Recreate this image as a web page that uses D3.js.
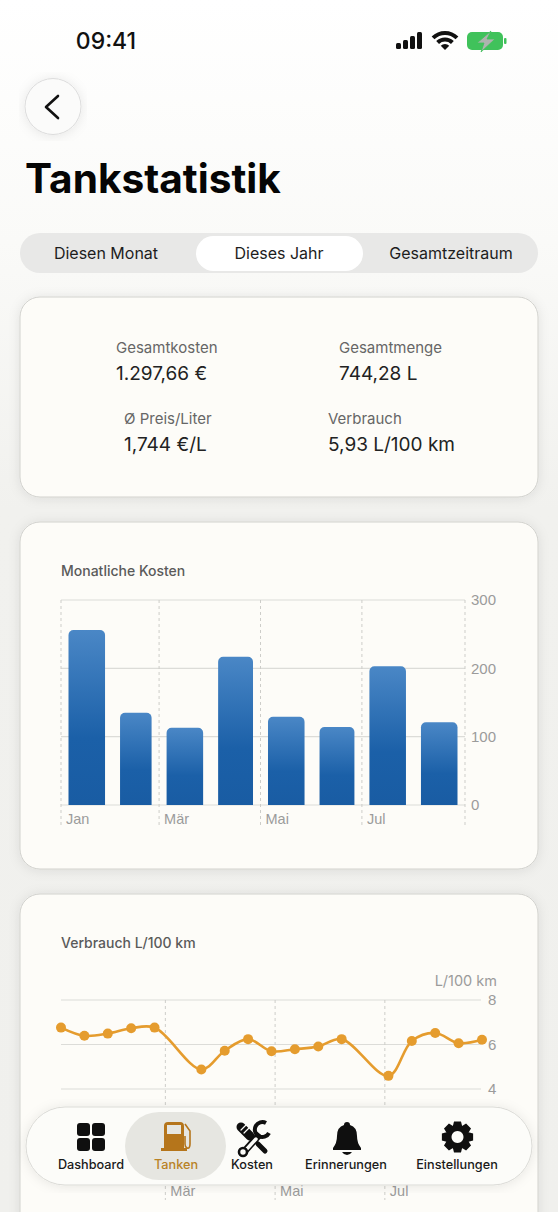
<!DOCTYPE html>
<html lang="de">
<head>
<meta charset="utf-8">
<title>Tankstatistik</title>
<script src="https://cdn.jsdelivr.net/npm/d3@7"></script>
<style>
  html, body { margin: 0; padding: 0; background: #f4f4f1; overflow: hidden; }
  svg { display: block; font-family: Inter, "Liberation Sans", sans-serif; }
</style>
</head>
<body>
<svg width="558" height="1212"></svg>
<script>
const periods = ["Diesen Monat", "Dieses Jahr", "Gesamtzeitraum"];

const statLabels = ["Gesamtkosten", "Gesamtmenge", "Ø Preis/Liter", "Verbrauch"];
const statValues = ["1.297,66 €", "744,28 L", "1,744 €/L", "5,93 L/100 km"];

const costMonths = ["2025-01-01", "2025-02-01", "2025-03-01", "2025-04-01", "2025-05-01", "2025-06-01", "2025-07-01", "2025-08-01"];
const costValues = [256, 135, 113, 217, 129, 114, 203, 121];
const costTicks = [0, 100, 200, 300];

const fuelDates = ["2025-01-02", "2025-01-15", "2025-01-28", "2025-02-10", "2025-02-23", "2025-03-21", "2025-04-03", "2025-04-16", "2025-04-29", "2025-05-12", "2025-05-25", "2025-06-07", "2025-07-03", "2025-07-16", "2025-07-29", "2025-08-11", "2025-08-24"];
const fuelValues = [6.76, 6.39, 6.49, 6.73, 6.76, 4.88, 5.72, 6.24, 5.70, 5.79, 5.91, 6.24, 4.59, 6.16, 6.52, 6.06, 6.21];
// 0 and 2 sit behind the tab bar in the reference
const fuelTicks = [4, 6, 8];

const monthTicks = ["2025-01-01", "2025-03-01", "2025-05-01", "2025-07-01", "2025-09-01"];
const monthNames = { 0: "Jan", 2: "Mär", 4: "Mai", 6: "Jul" };

const navLabels = ["Dashboard", "Tanken", "Kosten", "Erinnerungen", "Einstellungen"];

const colors = {
  ink: "#111",
  soft: "#5a5a5a",
  axis: "#9b9b9b",
  grid: "#dcdcd8",
  dash: "#cdcdc9",
  card: "#fdfcf8",
  cardLine: "#d2d2ce",
  line: "#e59c2e",
  active: "#b5751b"
};

const svg = d3.select("svg");
const defs = svg.append("defs");
const parseDay = d3.utcParse("%Y-%m-%d");

const addGradient = (id, stops) => {
  const g = defs.append("linearGradient").attr("id", id)
    .attr("x1", 0).attr("y1", 0).attr("x2", 0).attr("y2", 1);
  stops.forEach(([offset, color]) => g.append("stop").attr("offset", offset).attr("stop-color", color));
};
addGradient("page", [[0, "#ffffff"], [0.2, "#fafaf8"], [0.42, "#f1f1ee"], [1, "#f0f0ed"]]);
addGradient("bar", [[0, "#4a87c6"], [0.62, "#1b60a8"], [1, "#195ca3"]]);

const shadow = defs.append("filter").attr("id", "shadow")
  .attr("x", "-10%").attr("y", "-10%").attr("width", "120%").attr("height", "120%");
shadow.append("feDropShadow").attr("dx", 0).attr("dy", 1).attr("stdDeviation", 6)
  .attr("flood-color", "#000").attr("flood-opacity", 0.09);

svg.append("rect").attr("width", 558).attr("height", 1212).attr("fill", "url(#page)");

const label = (parent, x, y, text, size, fill, weight = 400, anchor = "start") =>
  parent.append("text")
    .attr("x", x).attr("y", y)
    .attr("font-size", size).attr("font-weight", weight)
    .attr("fill", fill).attr("text-anchor", anchor)
    .text(text);

const drawStatusBar = () => {
  const g = svg.append("g");
  label(g, 106, 49, "09:41", 23, colors.ink, 500, "middle");
  [6, 9, 13, 17].forEach((h, i) => {
    g.append("rect").attr("x", 396 + i * 7).attr("y", 49 - h)
      .attr("width", 5).attr("height", h).attr("rx", 1.5).attr("fill", colors.ink);
  });
  const arc = d3.arc().startAngle(-0.78).endAngle(0.78);
  [[15, 19], [8.5, 12.5]].forEach(([innerRadius, outerRadius]) => {
    g.append("path").attr("transform", "translate(445,50)")
      .attr("d", arc({ innerRadius, outerRadius })).attr("fill", colors.ink);
  });
  g.append("path").attr("transform", "translate(445,50)")
    .attr("d", arc({ innerRadius: 0, outerRadius: 6 })).attr("fill", colors.ink);
  g.append("rect").attr("x", 467).attr("y", 32).attr("width", 36).attr("height", 18).attr("rx", 5).attr("fill", "#40c25b");
  g.append("rect").attr("x", 504).attr("y", 38).attr("width", 2.5).attr("height", 6).attr("rx", 1).attr("fill", "#40c25b");
  g.append("path").attr("d", "M491,31 L477,43 L484,43 L481,52 L495,39 L487,39 Z")
    .attr("fill", "#aeb3ae").attr("stroke", "#40c25b").attr("stroke-width", 0.8);
};

const drawHeader = () => {
  svg.append("circle").attr("cx", 53).attr("cy", 106.5).attr("r", 28)
    .attr("fill", "#fbfbfa").attr("stroke", "#dcdcdc").attr("filter", "url(#shadow)");
  svg.append("path").attr("d", "M58,96 L46,107 L58,118")
    .attr("fill", "none").attr("stroke", colors.ink).attr("stroke-width", 2.6)
    .attr("stroke-linecap", "round").attr("stroke-linejoin", "round");
  label(svg, 25, 193, "Tankstatistik", 40.6, "#050505", 700);

  svg.append("rect").attr("x", 20).attr("y", 233).attr("width", 518).attr("height", 40)
    .attr("rx", 20).attr("fill", "#e8e8e7");
  svg.append("rect").attr("x", 196).attr("y", 236).attr("width", 167).attr("height", 35)
    .attr("rx", 17.5).attr("fill", "#fff");
  const centers = [106, 279, 451];
  periods.forEach((p, i) => label(svg, centers[i], 259, p, 16, "#1d1d1d", 400, "middle"));
};

const drawCard = (y, height) =>
  svg.append("rect").attr("x", 20).attr("y", y).attr("width", 518).attr("height", height)
    .attr("rx", 20).attr("fill", colors.card).attr("stroke", colors.cardLine)
    .attr("filter", "url(#shadow)");

const drawStats = () => {
  drawCard(297, 200);
  const spots = [[116, 353, 380], [339, 353, 380], [124, 424, 451], [328, 424, 451]];
  spots.forEach(([x, y1, y2], i) => {
    label(svg, x, y1, statLabels[i], 15, "#666");
    label(svg, x, y2, statValues[i], 19, "#222", 400);
  });
};

// shared look of the month axis: dashed verticals and the short names
const styleMonthAxis = (g, labelDx, labelY) => {
  g.select(".domain").remove();
  g.selectAll(".tick line")
    .attr("stroke", colors.dash).attr("stroke-dasharray", "3,3");
  g.selectAll(".tick text")
    .attr("fill", colors.axis).attr("font-size", 14.5).attr("font-family", "inherit")
    .attr("text-anchor", "start").attr("x", labelDx).attr("y", labelY).attr("dy", 0);
};

const styleValueAxis = (g, labelX) => {
  g.select(".domain").remove();
  g.selectAll(".tick line").attr("stroke", colors.grid).attr("stroke-width", 1.2);
  g.selectAll(".tick text")
    .attr("fill", colors.axis).attr("font-size", 15).attr("font-family", "inherit")
    .attr("text-anchor", "start").attr("x", labelX).attr("dy", "0.36em");
};

const monthFormat = (d) => monthNames[d.getUTCMonth()] || "";

const drawCostChart = () => {
  drawCard(522, 347);
  label(svg, 61, 576, "Monatliche Kosten", 14, colors.soft, 500);

  const x = d3.scaleUtc()
    .domain([parseDay("2025-01-01"), parseDay("2025-09-01")])
    .range([61, 465]);
  const y = d3.scaleLinear().domain([0, 300]).range([805, 600]);

  svg.append("g").attr("transform", "translate(465,0)")
    .call(d3.axisRight(y).offset(0).tickValues(costTicks).tickSize(-404))
    .call(styleValueAxis, 6);
  svg.append("g").attr("transform", "translate(0,600)")
    .call(d3.axisBottom(x).offset(0).tickValues(monthTicks.map(parseDay)).tickSize(226).tickFormat(monthFormat))
    .call(styleMonthAxis, 5, 224);

  const inset = 7.5;
  const radius = 5;
  const barPath = (d, i) => {
    const start = parseDay(d);
    const left = x(start) + inset;
    const right = x(d3.utcMonth.offset(start, 1)) - inset;
    const top = y(costValues[i]);
    const path = d3.path();
    path.moveTo(left, y(0));
    path.lineTo(left, top + radius);
    path.arcTo(left, top, left + radius, top, radius);
    path.lineTo(right - radius, top);
    path.arcTo(right, top, right, top + radius, radius);
    path.lineTo(right, y(0));
    path.closePath();
    return path.toString();
  };
  svg.append("g").selectAll("path").data(costMonths).join("path")
    .attr("d", barPath).attr("fill", "url(#bar)");
};

const drawFuelChart = () => {
  drawCard(894, 340);
  label(svg, 61, 948, "Verbrauch L/100 km", 14, colors.soft, 500);
  label(svg, 497, 986, "L/100 km", 14.5, colors.axis, 400, "end");

  const dates = fuelDates.map(parseDay);
  const x = d3.scaleUtc()
    .domain([dates[0], dates[dates.length - 1]])
    .range([61, 482]);
  const y = d3.scaleLinear().domain([0, 8]).range([1178, 1000]);

  svg.append("g").attr("transform", "translate(481,0)")
    .call(d3.axisRight(y).offset(0).tickValues(fuelTicks).tickSize(-420))
    .call(styleValueAxis, 7);
  svg.append("g").attr("transform", "translate(0,1000)")
    .call(d3.axisBottom(x).offset(0).tickValues(monthTicks.slice(1, 4).map(parseDay)).tickSize(200).tickFormat(monthFormat))
    .call(styleMonthAxis, 5, 196);

  const line = d3.line()
    .x((d) => x(d))
    .y((d, i) => y(fuelValues[i]))
    .curve(d3.curveCatmullRom);
  svg.append("path").attr("d", line(dates))
    .attr("fill", "none").attr("stroke", colors.line).attr("stroke-width", 2.6);
  svg.append("g").selectAll("circle").data(dates).join("circle")
    .attr("cx", (d) => x(d))
    .attr("cy", (d, i) => y(fuelValues[i]))
    .attr("r", 5).attr("fill", colors.line);
};

const gearPath = (cx, cy, outer, inner, teeth) => {
  const points = [];
  const step = (Math.PI * 2) / teeth;
  d3.range(teeth).forEach((i) => {
    const a = i * step - Math.PI / 2;
    [[-0.36, inner], [-0.2, outer], [0.2, outer], [0.36, inner]].forEach(([off, r]) => {
      points.push([cx + Math.cos(a + off * step * 1.4) * r, cy + Math.sin(a + off * step * 1.4) * r]);
    });
  });
  return d3.line().curve(d3.curveLinearClosed)(points);
};

const drawNav = () => {
  svg.append("rect").attr("x", 26).attr("y", 1107).attr("width", 506).attr("height", 78)
    .attr("rx", 39).attr("fill", "#fcfcf9").attr("stroke", "#dbdbd7").attr("filter", "url(#shadow)");
  svg.append("rect").attr("x", 125).attr("y", 1112).attr("width", 101).attr("height", 68)
    .attr("rx", 34).attr("fill", "#e6e6e1");

  const centers = [91, 176, 252, 346, 457];
  navLabels.forEach((n, i) =>
    label(svg, centers[i], 1169, n, 12.7, i === 1 ? "#b98226" : "#1a1a1a", 500, "middle"));

  // Dashboard
  [[77, 1123], [92, 1123], [77, 1138], [92, 1138]].forEach(([x, y]) => {
    svg.append("rect").attr("x", x).attr("y", y).attr("width", 13).attr("height", 13)
      .attr("rx", 3).attr("fill", "#0f0f0f");
  });

  // Tanken
  const pump = svg.append("g").attr("fill", colors.active);
  pump.append("path").attr("fill-rule", "evenodd")
    .attr("d", "M164,1126 Q164,1122 168,1122 L180,1122 Q184,1122 184,1126 L184,1148 L187,1148 L187,1151 L161,1151 L161,1148 L164,1148 Z M167,1125 L167,1134 L181,1134 L181,1125 Z");
  pump.append("path").attr("fill", "none").attr("stroke", colors.active).attr("stroke-width", 1.6)
    .attr("d", "M185,1124 L190,1131 L190,1144 Q190,1149 187,1148 Q185,1147 185,1144 L185,1136");

  // Kosten
  const tools = svg.append("g").attr("fill", "none").attr("stroke", "#0f0f0f").attr("stroke-linecap", "round");
  tools.append("path").attr("stroke-width", 9).attr("d", "M241,1127 L250,1136");
  tools.append("path").attr("stroke-width", 1.2).attr("stroke", "#fcfcf9").attr("d", "M241,1130 L247,1124 M244,1133 L250,1127");
  tools.append("path").attr("stroke-width", 3).attr("d", "M250,1136 L258,1144");
  tools.append("path").attr("stroke-width", 5).attr("d", "M258,1144 L265,1151");
  tools.append("path").attr("stroke-width", 7).attr("stroke-linecap", "butt").attr("d", "M243,1153 L260,1134");
  tools.append("path").attr("stroke-width", 3.5).attr("stroke", "#fcfcf9").attr("d", "M245,1151 L256,1139");
  tools.append("circle").attr("cx", 243).attr("cy", 1152).attr("r", 4).attr("stroke-width", 2.6).attr("fill", "#fcfcf9");
  tools.append("path").attr("stroke-width", 4).attr("stroke-linecap", "butt").attr("d", "M266,1123 A7.5,7.5 0 1 0 269,1133");

  // Erinnerungen
  svg.append("path").attr("fill", "#0f0f0f")
    .attr("d", "M347,1122 Q350,1122 350,1125 Q357,1127 357,1136 Q357,1143 361,1148 L361,1150 L333,1150 L333,1148 Q337,1143 337,1136 Q337,1127 344,1125 Q344,1122 347,1122 Z M342,1152 L352,1152 Q350,1155 347,1155 Q344,1155 342,1152 Z");

  // Einstellungen
  svg.append("path").attr("fill-rule", "evenodd").attr("fill", "#0f0f0f")
    .attr("d", gearPath(457.5, 1137, 16, 12, 8) + "M457.5,1131 a6,6 0 1,0 0.01,0 Z");
};

drawStatusBar();
drawHeader();
drawStats();
drawCostChart();
drawFuelChart();
drawNav();
</script>
</body>
</html>
